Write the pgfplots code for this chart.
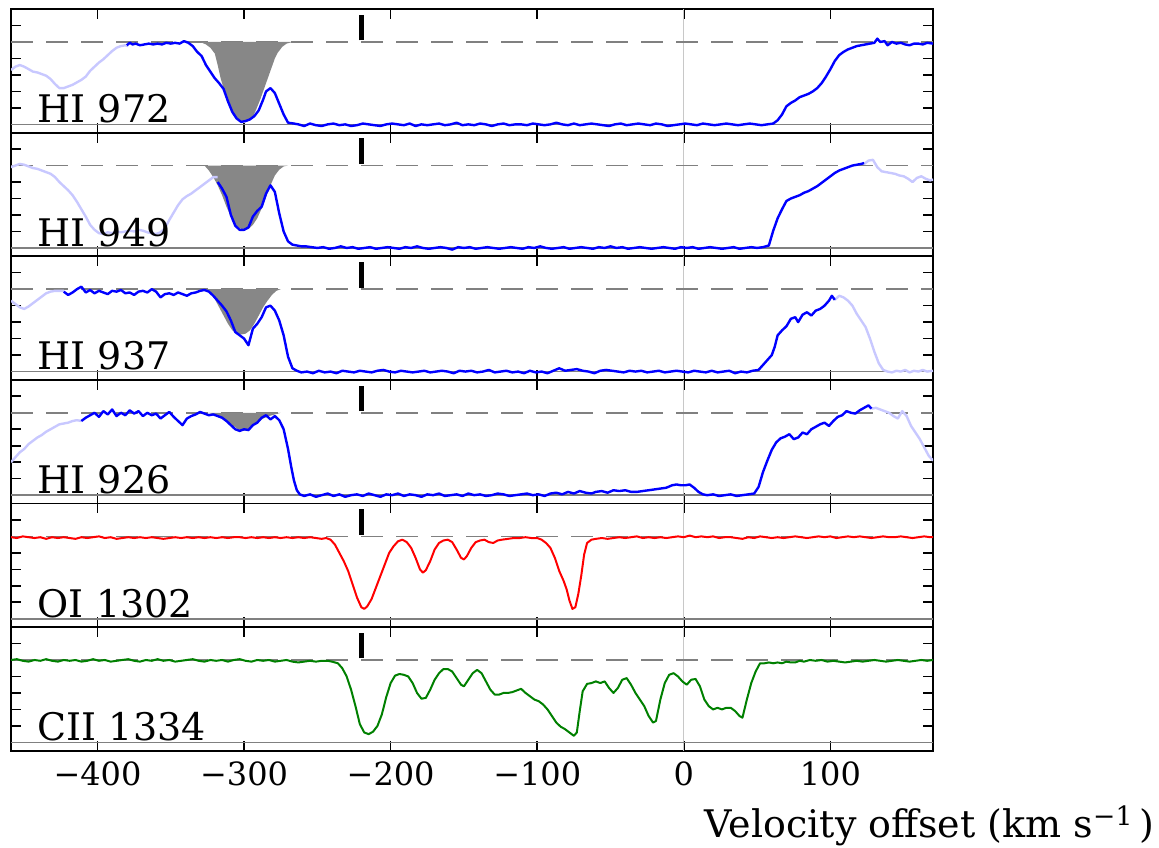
\documentclass[border=0pt]{standalone}
\usepackage{fontspec}
\setmainfont{DejaVu Serif}
\usepackage{pgfplots}
\pgfplotsset{compat=1.18}
\usepgfplotslibrary{groupplots}
\usetikzlibrary{calc}
\definecolor{lb}{RGB}{200,200,255}
\definecolor{cblue}{RGB}{0,0,255}
\definecolor{cred}{RGB}{255,0,0}
\definecolor{cgreen}{RGB}{0,128,0}
\definecolor{gfill}{RGB}{135,135,135}
\definecolor{refgray}{RGB}{128,128,128}
\definecolor{vgray}{RGB}{200,200,200}
\pgfplotsset{
  spec/.style={sharp plot, line width=1.2pt, line join=round},
  specm/.style={sharp plot, line width=1.0pt, line join=round},
}
\tikzset{
  lab/.style={anchor=base west, inner sep=0pt, font=\fontsize{19}{22}\selectfont},
}
\newcommand{\refl}{%
  \addplot[vgray, line width=0.5pt, forget plot] coordinates {(0,-0.1) (0,1.4)};
  \addplot[refgray, line width=0.8pt, forget plot] coordinates {(-459,0) (170,0)};
  \addplot[refgray, line width=0.8pt, dash pattern=on 11pt off 6.5pt, forget plot] coordinates {(-459,1) (170,1)};
}
\newcommand{\tickI}{%
  \addplot[black, line width=2.2pt, forget plot] coordinates {(-220,1.02) (-220,1.33)};
}
\begin{document}
\begin{tikzpicture}
\begin{groupplot}[
  group style={group name=G, group size=1 by 6, vertical sep=0pt},
  width=461pt, height=61.8pt, scale only axis,
  xmin=-459, xmax=170, ymin=-0.1, ymax=1.4,
  xtick={-400,-300,-200,-100,0,100},
  xticklabels={},
  ytick={0,0.2,0.4,0.6,0.8,1.0,1.2}, yticklabels={},
  tick align=inside,
  major tick length=5pt,
  tick style={black, line width=0.8pt},
  axis line style={line width=0.9pt},
  xticklabel style={font=\fontsize{16}{19}\selectfont, yshift=-2pt},
]
% ---------------- HI 972
\nextgroupplot
\refl
\addplot[fill=gfill, draw=none, forget plot] coordinates {(-330,1.0)(-326,0.97)(-323,0.93)(-320,0.86)(-318,0.72)(-316,0.56)(-314,0.44)(-311,0.30)(-309,0.17)(-306,0.08)(-303,0.04)(-300,0.03)(-297,0.04)(-294,0.09)(-292,0.17)(-289,0.30)(-286,0.45)(-283,0.60)(-281,0.70)(-279,0.80)(-277,0.87)(-274,0.94)(-271,0.98)(-267,1.0)} -- cycle;
\addplot[spec, lb] coordinates {(-459,0.66)(-456,0.70)(-453,0.72)(-450,0.70)(-447,0.67)(-444,0.64)(-441,0.63)(-438,0.61)(-435,0.59)(-432,0.55)(-429,0.49)(-426,0.44)(-423,0.44)(-420,0.46)(-417,0.48)(-414,0.51)(-411,0.54)(-408,0.58)(-405,0.65)(-402,0.70)(-399,0.75)(-396,0.79)(-393,0.84)(-390,0.89)(-387,0.93)(-384,0.95)(-381,0.96)(-379,0.95)};
\addplot[spec, cblue] coordinates {(-380,0.96)(-378,0.99)(-376,0.97)(-374,0.98)(-371,0.96)(-368,0.97)(-365,0.98)(-362,0.97)(-359,0.98)(-356,0.97)(-353,0.99)(-350,0.98)(-347,0.99)(-344,0.98)(-341,1.01)(-338,0.99)(-335,0.95)(-332,0.88)(-329,0.83)(-326,0.72)(-323,0.64)(-320,0.56)(-317,0.50)(-314,0.43)(-311,0.28)(-308,0.15)(-305,0.07)(-302,0.03)(-299,0.04)(-296,0.06)(-293,0.10)(-290,0.17)(-287,0.30)(-285,0.40)(-282,0.44)(-279,0.38)(-276,0.25)(-273,0.12)(-270,0.02)(-266,0.01)
(-263,0.00)(-259,-0.02)(-255,0.01)(-251,-0.01)(-247,-0.02)(-243,0.00)(-239,0.01)(-235,-0.01)(-231,0.00)(-227,-0.02)(-223,-0.01)(-219,0.01)(-215,0.00)(-211,-0.01)(-207,-0.02)(-203,0.00)(-199,0.01)(-195,0.00)(-191,-0.01)(-187,0.01)(-183,-0.02)(-179,0.00)(-175,-0.01)(-171,0.00)(-167,0.01)(-163,-0.01)(-159,0.00)(-155,0.02)(-151,-0.01)(-147,0.00)(-143,-0.01)(-139,0.01)(-135,0.00)(-131,-0.02)(-127,0.00)(-123,0.01)(-119,-0.01)(-115,0.00)(-111,0.00)(-107,-0.01)(-103,0.01)(-99,0.00)(-95,-0.01)(-91,0.00)(-87,0.02)(-83,0.00)(-79,-0.01)(-75,0.01)(-71,-0.01)(-67,0.00)(-63,0.01)(-59,0.00)(-55,-0.01)(-51,-0.02)(-47,0.00)(-43,0.01)(-39,-0.01)(-35,0.00)(-31,0.01)(-27,0.00)(-23,-0.01)(-19,0.01)(-15,0.00)(-11,-0.02)(-7,-0.01)(-3,0.00)(1,0.01)(5,0.00)(9,-0.01)(13,0.01)(17,0.00)(21,-0.01)(25,0.00)(29,0.01)(33,0.00)(37,-0.01)(41,0.00)(45,0.01)(49,0.00)(53,-0.01)(57,0.00)
(61,0.01)(64,0.05)(67,0.12)(70,0.22)(73,0.26)(76,0.29)(79,0.33)(82,0.35)(85,0.37)(88,0.40)(91,0.44)(94,0.50)(97,0.58)(100,0.67)(103,0.77)(106,0.84)(109,0.88)(112,0.91)(115,0.93)(118,0.95)(121,0.96)(124,0.97)(127,0.98)(130,0.99)(132,1.04)(134,1.00)(137,1.01)(139,0.96)(142,1.00)(145,0.98)(148,0.99)(151,0.97)(154,0.96)(157,0.98)(160,0.98)(163,0.97)(166,0.99)(170,0.98)};
\tickI
\node[lab] at (axis cs:-441,0.02) {HI 972};
% ---------------- HI 949
\nextgroupplot
\refl
\addplot[fill=gfill, draw=none, forget plot] coordinates {(-327,1.0)(-324,0.94)(-321,0.86)(-318,0.76)(-315,0.64)(-312,0.50)(-309,0.38)(-306,0.29)(-303,0.24)(-300,0.22)(-297,0.23)(-294,0.28)(-291,0.36)(-288,0.48)(-285,0.62)(-282,0.76)(-279,0.88)(-276,0.95)(-273,0.99)(-270,1.0)} -- cycle;
\addplot[spec, lb] coordinates {(-459,0.98)(-456,1.00)(-453,1.02)(-450,1.01)(-447,0.99)(-444,0.97)(-441,0.96)(-438,0.94)(-435,0.92)(-432,0.90)(-429,0.86)(-426,0.80)(-423,0.75)(-420,0.70)(-417,0.64)(-414,0.56)(-411,0.47)(-408,0.38)(-405,0.28)(-402,0.22)(-399,0.18)(-396,0.17)(-393,0.19)(-390,0.18)(-387,0.20)(-384,0.19)(-381,0.20)(-378,0.21)(-375,0.20)(-372,0.22)(-369,0.21)(-366,0.19)(-363,0.18)(-360,0.17)(-357,0.19)(-354,0.24)(-351,0.34)(-348,0.43)(-345,0.52)(-342,0.59)(-339,0.63)(-336,0.66)(-333,0.70)(-330,0.74)(-327,0.78)(-324,0.82)(-321,0.86)(-318,0.86)};
\addplot[spec, lb] coordinates {(123,1.02)(126,1.06)(129,1.07)(132,0.98)(135,0.93)(138,0.92)(141,0.91)(144,0.90)(147,0.88)(150,0.87)(153,0.84)(156,0.80)(159,0.85)(162,0.87)(165,0.84)(168,0.82)(170,0.83)};
\addplot[spec, cblue] coordinates {(-318,0.80)(-315,0.72)(-312,0.62)(-309,0.40)(-306,0.27)(-303,0.22)(-300,0.22)(-297,0.25)(-294,0.38)(-291,0.45)(-288,0.50)(-285,0.66)(-282,0.76)(-279,0.68)(-276,0.42)(-273,0.20)(-270,0.08)(-267,0.04)(-264,0.03)(-261,0.02)
(-258,0.02)(-254,0.01)(-250,0.00)(-246,0.01)(-242,-0.01)(-238,0.00)(-234,0.02)(-230,0.00)(-226,0.01)(-222,-0.01)(-218,0.00)(-214,0.01)(-210,-0.01)(-206,0.00)(-202,0.01)(-198,0.00)(-194,-0.01)(-190,0.01)(-186,0.00)(-182,0.02)(-178,0.00)(-174,-0.01)(-170,0.00)(-166,0.01)(-162,0.00)(-158,-0.02)(-154,0.01)(-150,0.00)(-146,0.01)(-142,-0.01)(-138,0.00)(-134,0.01)(-130,0.00)(-126,-0.01)(-122,0.00)(-118,0.01)(-114,0.00)(-110,-0.01)(-106,0.01)(-102,0.00)(-98,0.02)(-94,0.00)(-90,-0.01)(-86,0.00)(-82,0.01)(-78,-0.01)(-74,0.00)(-70,0.01)(-66,0.00)(-62,-0.01)(-58,0.01)(-54,0.00)(-50,0.02)(-46,0.00)(-42,0.01)(-38,-0.01)(-34,0.00)(-30,0.01)(-26,0.00)(-22,-0.01)(-18,0.00)(-14,0.01)(-10,0.00)(-6,-0.01)(-2,0.01)(2,0.00)(6,0.01)(10,-0.01)(14,0.00)(18,0.01)(22,0.00)(26,-0.01)(30,0.00)(34,0.01)(38,-0.01)(42,0.00)(46,0.01)(50,0.00)(54,0.01)
(58,0.03)(61,0.21)(64,0.36)(67,0.47)(70,0.57)(73,0.60)(76,0.62)(79,0.64)(82,0.67)(85,0.69)(88,0.72)(91,0.75)(94,0.79)(97,0.83)(100,0.87)(103,0.91)(106,0.94)(109,0.96)(112,0.98)(115,1.00)(118,1.01)(121,1.02)(123,1.03)};
\tickI
\node[lab] at (axis cs:-441,0.02) {HI 949};
% ---------------- HI 937
\nextgroupplot
\refl
\addplot[fill=gfill, draw=none, forget plot] coordinates {(-326,1.0)(-323,0.96)(-320,0.88)(-317,0.78)(-314,0.68)(-311,0.58)(-308,0.50)(-305,0.46)(-302,0.45)(-299,0.46)(-296,0.50)(-293,0.58)(-290,0.68)(-287,0.78)(-284,0.86)(-281,0.93)(-278,0.98)(-275,1.0)} -- cycle;
\addplot[spec, lb] coordinates {(-459,0.86)(-456,0.82)(-453,0.78)(-450,0.76)(-447,0.79)(-444,0.83)(-441,0.87)(-438,0.91)(-435,0.95)(-432,0.97)(-429,0.98)(-426,0.98)(-423,0.98)};
\addplot[spec, lb] coordinates {(103,0.87)(106,0.92)(109,0.90)(112,0.86)(115,0.80)(118,0.70)(121,0.62)(124,0.54)(127,0.40)(130,0.24)(133,0.10)(136,0.02)(139,0.00)(142,-0.01)(145,0.01)(148,0.00)(151,0.02)(154,-0.01)(157,0.01)(160,0.00)(163,0.02)(166,0.00)(170,0.01)};
\addplot[spec, cblue] coordinates {(-423,0.97)(-420,0.93)(-417,0.96)(-414,1.00)(-411,1.03)(-408,0.96)(-405,0.99)(-402,0.95)(-399,0.98)(-396,0.96)(-393,0.94)(-390,0.98)(-387,0.97)(-384,0.99)(-381,0.95)(-378,0.96)(-375,0.93)(-372,0.97)(-369,0.98)(-366,0.96)(-363,1.00)(-360,0.97)(-357,0.90)(-354,0.94)(-351,0.95)(-348,0.93)(-345,0.96)(-342,0.94)(-339,0.92)(-336,0.95)(-333,0.96)(-330,0.98)(-327,0.99)(-324,0.97)(-321,0.92)(-318,0.86)(-315,0.80)(-312,0.73)(-309,0.62)(-306,0.48)(-303,0.44)(-300,0.40)(-297,0.32)(-294,0.52)(-291,0.58)(-288,0.66)(-285,0.78)(-282,0.80)(-279,0.74)(-276,0.62)(-273,0.44)(-270,0.18)(-267,0.04)(-264,0.01)
(-261,-0.01)(-257,0.00)(-253,-0.02)(-249,0.01)(-245,-0.01)(-241,0.00)(-237,-0.02)(-233,0.01)(-229,0.00)(-225,-0.01)(-221,0.01)(-217,0.00)(-213,-0.01)(-209,0.01)(-205,0.02)(-201,0.00)(-197,-0.01)(-193,0.01)(-189,0.00)(-185,-0.01)(-181,0.00)(-177,0.01)(-173,-0.01)(-169,0.00)(-165,0.01)(-161,0.00)(-157,-0.02)(-153,0.01)(-149,0.00)(-145,0.01)(-141,-0.01)(-137,0.00)(-133,0.02)(-129,-0.01)(-125,0.00)(-121,0.01)(-117,-0.01)(-113,0.00)(-109,-0.02)(-105,0.01)(-101,-0.01)(-97,0.00)(-93,-0.02)(-89,0.01)(-85,0.04)(-81,0.01)(-77,0.02)(-73,0.03)(-69,0.01)(-65,0.00)(-61,-0.02)(-57,0.01)(-53,0.02)(-49,0.01)(-45,0.00)(-41,-0.01)(-37,0.01)(-33,0.00)(-29,0.01)(-25,-0.01)(-21,0.00)(-17,0.01)(-13,-0.01)(-9,0.00)(-5,0.01)(-1,0.00)(3,-0.01)(7,0.01)(11,0.00)(15,-0.01)(19,0.01)(23,-0.01)(27,0.00)(31,0.01)(35,-0.02)(39,0.00)(43,-0.01)(47,0.01)(51,0.02)
(54,0.08)(57,0.14)(60,0.20)(62,0.30)(64,0.44)(67,0.50)(70,0.55)(73,0.64)(76,0.66)(78,0.60)(81,0.69)(84,0.72)(87,0.68)(90,0.74)(93,0.76)(96,0.80)(99,0.86)(101,0.92)(103,0.87)};
\tickI
\node[lab] at (axis cs:-441,0.02) {HI 937};
% ---------------- HI 926
\nextgroupplot
\refl
\addplot[fill=gfill, draw=none, forget plot] coordinates {(-325,1.0)(-320,0.98)(-316,0.95)(-312,0.90)(-308,0.85)(-304,0.80)(-301,0.78)(-298,0.79)(-295,0.83)(-291,0.88)(-287,0.93)(-283,0.96)(-279,0.98)(-275,1.0)} -- cycle;
\addplot[spec, lb] coordinates {(-459,0.40)(-456,0.46)(-453,0.52)(-450,0.56)(-447,0.62)(-444,0.66)(-441,0.70)(-438,0.73)(-435,0.77)(-432,0.80)(-429,0.83)(-426,0.86)(-423,0.87)(-420,0.88)(-417,0.90)(-414,0.91)(-411,0.90)};
\addplot[spec, lb] coordinates {(128,1.05)(131,1.06)(134,1.04)(137,1.02)(140,1.00)(143,0.96)(146,0.93)(149,1.02)(152,0.96)(155,0.84)(158,0.76)(161,0.68)(164,0.58)(167,0.48)(170,0.42)};
\addplot[spec, cblue] coordinates {(-411,0.90)(-408,0.94)(-405,0.97)(-402,1.00)(-399,0.95)(-396,1.02)(-393,0.98)(-390,1.04)(-387,0.96)(-384,1.00)(-381,0.97)(-378,1.03)(-375,0.99)(-372,1.02)(-369,0.96)(-366,1.00)(-363,0.97)(-360,0.99)(-357,0.93)(-354,0.97)(-351,1.01)(-348,0.95)(-345,0.90)(-342,0.85)(-339,0.93)(-336,0.96)(-333,0.98)(-330,1.01)(-327,0.99)(-324,0.97)(-321,0.98)(-318,0.96)(-315,0.94)(-312,0.90)(-309,0.85)(-306,0.80)(-303,0.78)(-300,0.80)(-297,0.79)(-294,0.85)(-291,0.88)(-288,0.94)(-285,0.97)(-282,0.92)(-279,0.96)(-276,0.91)(-273,0.80)(-270,0.56)(-268,0.36)(-266,0.18)(-264,0.06)(-262,0.01)
(-259,-0.01)(-255,0.01)(-251,-0.02)(-247,0.00)(-243,0.02)(-239,-0.01)(-235,0.01)(-231,-0.02)(-227,0.00)(-223,0.01)(-219,-0.01)(-215,0.02)(-211,0.00)(-207,-0.02)(-203,0.01)(-199,0.00)(-195,0.02)(-191,-0.01)(-187,0.01)(-183,0.00)(-179,-0.02)(-175,0.01)(-171,0.00)(-167,0.02)(-163,-0.01)(-159,0.00)(-155,0.01)(-151,-0.01)(-147,0.02)(-143,0.00)(-139,0.01)(-135,-0.01)(-131,0.00)(-127,0.02)(-123,0.01)(-119,-0.01)(-115,0.00)(-111,0.01)(-107,0.02)(-103,0.00)(-99,0.01)(-95,-0.01)(-91,0.02)(-87,0.03)(-83,0.01)(-79,0.04)(-75,0.02)(-71,0.05)(-67,0.03)(-63,0.02)
(-60,0.04)(-56,0.05)(-52,0.03)(-48,0.06)(-44,0.05)(-40,0.06)(-36,0.04)(-32,0.04)(-28,0.05)(-24,0.06)(-20,0.07)(-16,0.08)(-12,0.09)(-8,0.12)(-5,0.13)(-2,0.12)(1,0.12)(4,0.13)(7,0.09)(10,0.04)(13,0.01)(16,0.00)(20,0.01)(24,-0.01)(28,0.00)(32,0.01)(36,-0.01)(40,0.00)(44,0.01)(48,0.02)
(51,0.10)(54,0.28)(57,0.42)(60,0.55)(63,0.64)(66,0.69)(69,0.71)(72,0.74)(75,0.68)(78,0.70)(81,0.76)(84,0.74)(87,0.80)(90,0.83)(93,0.86)(96,0.88)(99,0.84)(102,0.90)(105,0.95)(108,0.97)(111,1.02)(114,1.00)(117,0.99)(120,1.03)(123,1.06)(126,1.09)(128,1.05)};
\tickI
\node[lab] at (axis cs:-441,0.02) {HI 926};
% ---------------- OI 1302
\nextgroupplot
\refl
\addplot[specm, cred] coordinates {(-459,0.99)(-455,0.98)(-451,1.00)(-447,0.99)(-443,0.98)(-439,0.99)(-435,0.97)(-431,0.99)(-427,0.98)(-423,0.99)(-419,0.98)(-415,0.97)(-411,0.99)(-407,0.98)(-403,0.99)(-399,1.00)(-395,0.98)(-391,0.99)(-387,0.97)(-383,0.98)(-379,0.99)(-375,0.98)(-371,0.99)(-367,0.98)(-363,0.99)(-359,0.98)(-355,0.97)(-351,0.98)(-347,0.99)(-343,0.98)(-339,0.99)(-335,0.98)(-331,0.99)(-327,0.98)(-323,0.99)(-319,0.98)(-315,0.99)(-311,0.98)(-307,0.99)(-303,0.99)(-299,0.98)(-295,0.99)(-291,0.98)(-287,0.99)(-283,0.98)(-279,0.99)(-275,0.98)(-271,0.99)(-267,0.98)(-263,0.99)(-259,0.98)(-255,0.99)(-251,0.98)(-247,0.97)(-244,0.98)(-241,0.96)(-238,0.90)(-235,0.80)(-232,0.70)(-229,0.58)(-226,0.42)(-223,0.26)(-220,0.14)(-218,0.12)(-216,0.15)(-213,0.24)(-210,0.38)(-207,0.52)(-204,0.66)(-201,0.80)(-198,0.88)(-195,0.94)(-192,0.96)(-189,0.93)(-186,0.86)(-183,0.74)(-180,0.60)(-178,0.56)(-176,0.59)(-173,0.70)(-170,0.84)(-167,0.92)(-164,0.95)(-161,0.96)(-158,0.93)(-155,0.84)(-152,0.74)(-150,0.72)(-148,0.76)(-145,0.86)(-142,0.93)(-139,0.95)(-136,0.96)(-133,0.93)(-130,0.92)(-127,0.95)(-124,0.96)(-120,0.97)(-116,0.98)(-112,0.98)(-108,0.99)(-104,0.98)(-100,0.98)(-97,0.96)(-94,0.92)(-91,0.86)(-88,0.74)(-85,0.58)(-82,0.46)(-80,0.36)(-78,0.22)(-76,0.12)(-74,0.14)(-72,0.30)(-70,0.52)(-68,0.78)(-66,0.92)(-63,0.96)(-60,0.97)(-56,0.98)(-52,0.97)(-48,0.98)(-44,0.99)(-40,0.98)(-36,0.99)(-32,1.00)(-28,0.98)(-24,0.99)(-20,0.98)(-16,0.99)(-12,0.98)(-8,0.99)(-4,1.00)(0,0.99)(4,1.01)(8,0.99)(12,1.00)(16,0.99)(20,1.00)(24,0.98)(28,0.99)(32,0.99)(36,0.98)(40,0.97)(44,0.99)(48,0.98)(52,1.00)(56,0.99)(60,0.98)(64,0.99)(68,0.98)(72,0.99)(76,1.00)(80,0.99)(84,0.98)(88,0.99)(92,1.00)(96,0.99)(100,1.00)(104,0.98)(108,0.99)(112,1.00)(116,0.99)(120,1.00)(124,0.99)(128,0.98)(132,0.99)(136,1.00)(140,0.99)(144,0.99)(148,1.00)(152,0.99)(156,0.98)(160,0.99)(164,1.00)(168,0.99)(170,0.99)};
\tickI
\node[lab] at (axis cs:-441,0.02) {OI 1302};
% ---------------- CII 1334
\nextgroupplot[xticklabels={−400,−300,−200,−100,0,100}]
\refl
\addplot[specm, cgreen] coordinates {(-459,1.00)(-455,1.01)(-451,0.99)(-447,0.98)(-443,1.00)(-439,0.99)(-435,1.01)(-431,0.99)(-427,0.98)(-423,1.00)(-419,0.99)(-415,1.00)(-411,0.98)(-407,0.99)(-403,1.01)(-399,0.99)(-395,1.00)(-391,0.98)(-387,0.99)(-383,1.00)(-379,1.01)(-375,0.99)(-371,0.98)(-367,1.00)(-363,0.99)(-359,1.01)(-355,0.99)(-351,1.00)(-347,0.98)(-343,0.99)(-339,1.00)(-335,1.01)(-331,0.99)(-327,0.98)(-323,1.00)(-319,0.99)(-315,1.00)(-311,0.98)(-307,1.00)(-303,1.01)(-299,0.99)(-295,0.98)(-291,1.00)(-287,0.99)(-283,1.00)(-279,0.98)(-275,0.99)(-271,1.00)(-267,0.98)(-263,0.97)(-259,0.98)(-255,0.99)(-251,0.98)(-247,0.99)(-243,0.99)(-240,0.98)(-236,0.96)(-233,0.90)(-230,0.80)(-227,0.64)(-224,0.44)(-221,0.22)(-218,0.12)(-215,0.10)(-212,0.13)(-209,0.20)(-206,0.34)(-203,0.55)(-200,0.72)(-197,0.81)(-194,0.83)(-191,0.82)(-188,0.80)(-185,0.72)(-182,0.60)(-179,0.53)(-176,0.54)(-173,0.64)(-170,0.76)(-167,0.84)(-164,0.89)(-161,0.89)(-158,0.86)(-155,0.78)(-152,0.70)(-150,0.68)(-147,0.76)(-144,0.84)(-141,0.88)(-138,0.84)(-135,0.74)(-132,0.64)(-129,0.58)(-126,0.58)(-123,0.60)(-120,0.60)(-117,0.61)(-114,0.63)(-111,0.65)(-108,0.60)(-105,0.56)(-102,0.52)(-99,0.50)(-96,0.46)(-93,0.40)(-90,0.32)(-87,0.24)(-84,0.19)(-81,0.16)(-78,0.12)(-75,0.08)(-73,0.12)(-71,0.38)(-69,0.62)(-66,0.71)(-63,0.72)(-60,0.74)(-57,0.72)(-54,0.74)(-51,0.66)(-48,0.60)(-45,0.66)(-42,0.76)(-39,0.78)(-36,0.70)(-33,0.60)(-30,0.52)(-27,0.44)(-24,0.32)(-21,0.24)(-19,0.26)(-16,0.52)(-13,0.72)(-10,0.82)(-7,0.84)(-4,0.80)(-1,0.74)(2,0.70)(5,0.76)(8,0.77)(11,0.68)(14,0.52)(17,0.44)(20,0.40)(23,0.42)(26,0.40)(29,0.42)(32,0.42)(35,0.38)(38,0.32)(40,0.30)(43,0.52)(46,0.72)(49,0.86)(52,0.96)(55,0.96)(58,0.97)(61,0.96)(64,0.97)(67,0.96)(70,0.98)(73,0.97)(76,0.97)(79,0.99)(82,0.98)(86,1.00)(90,0.99)(94,1.00)(98,0.98)(102,0.99)(106,0.98)(110,0.97)(114,0.98)(118,0.99)(122,0.98)(126,0.99)(130,1.00)(134,0.99)(138,0.98)(142,0.99)(146,1.00)(150,0.99)(154,0.98)(158,0.99)(162,1.00)(166,0.99)(170,1.00)};
\tickI
\node[lab] at (axis cs:-441,0.02) {CII 1334};
\end{groupplot}
\node[anchor=base east, inner sep=0pt, font=\fontsize{19}{22}\selectfont] at ($(G c1r6.south west)+(572pt,-43.5pt)$) {Velocity offset (km s\textsuperscript{−1}\,)};
\pgfresetboundingbox
\path[use as bounding box] ($(G c1r1.north west)+(-5.5pt,4.5pt)$) rectangle ($(G c1r1.north west)+(574pt,-419pt)$);
\end{tikzpicture}
\end{document}
